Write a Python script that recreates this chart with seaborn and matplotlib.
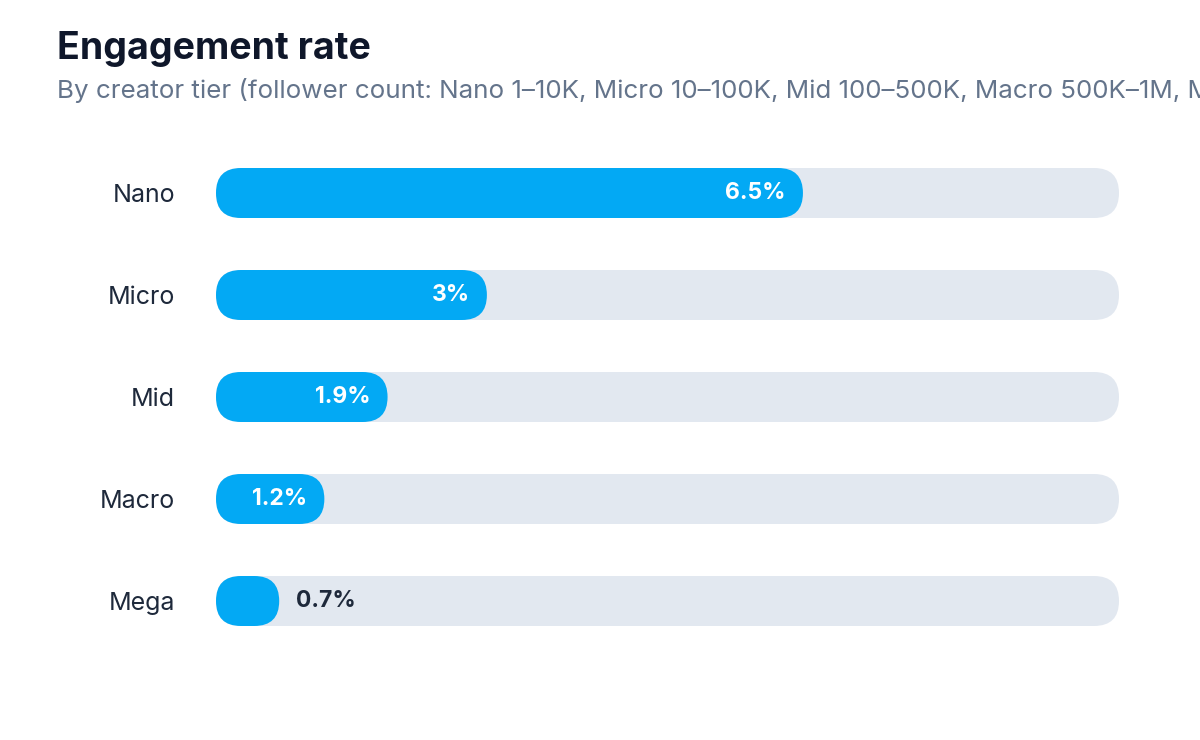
import matplotlib
matplotlib.use("Agg")
import matplotlib.pyplot as plt
from matplotlib.patches import FancyBboxPatch, Rectangle, BoxStyle
import seaborn as sns
import pandas as pd

# ---- data ----
tiers = ["Nano", "Micro", "Mid", "Macro", "Mega"]
rates = [6.5, 3.0, 1.9, 1.2, 0.7]
rate_labels = ["6.5%", "3%", "1.9%", "1.2%", "0.7%"]
scale_max = 10.0
title = "Engagement rate"
subtitle = ("By creator tier (follower count: Nano 1–10K, Micro 10–100K, "
            "Mid 100–500K, Macro 500K–1M, Mega 1M+)")

BAR = "#03a9f4"
TRACK = "#e2e8f0"
DARK = "#0f172a"
LABEL = "#1e293b"
MUTED = "#64748b"

sns.set_theme(style="white")
plt.rcParams["font.family"] = ["Inter", "DejaVu Sans"]

df = pd.DataFrame({"tier": tiers, "rate": rates,
                   "track": [scale_max] * len(tiers)})

fig = plt.figure(figsize=(12, 7.4), dpi=100)
W, H = 1200, 740
ax = fig.add_axes([216 / W, (H - 652) / H, 903 / W, 510 / H])

bw = 50 / 102
sns.barplot(data=df, x="track", y="tier", orient="h", color=TRACK,
            width=bw, ax=ax, saturation=1)
sns.barplot(data=df, x="rate", y="tier", orient="h", color=BAR,
            width=bw, ax=ax, saturation=1)

ax.set_xlim(0, scale_max)
ax.set_ylim(len(tiers) - 0.5, -0.5)

# convert rectangles to pill shapes
p0 = ax.transData.transform((0, 0))
px_x = ax.transData.transform((1, 0))[0] - p0[0]
px_y = abs(ax.transData.transform((0, 1))[1] - p0[1])
aspect = px_x / px_y
rects = [p for p in ax.patches if isinstance(p, Rectangle)]
for r in rects:
    x, y = r.get_x(), r.get_y()
    w, h = r.get_width(), r.get_height()
    fc = r.get_facecolor()
    r.remove()
    rad = (h / 2) / aspect
    pill = FancyBboxPatch((x, y), w, h,
                          boxstyle=BoxStyle.Round(pad=0, rounding_size=rad),
                          mutation_aspect=aspect, facecolor=fc,
                          edgecolor="none", linewidth=0)
    ax.add_patch(pill)

# value labels
for i, (v, lab) in enumerate(zip(rates, rate_labels)):
    if v >= 1.0:
        ax.annotate(lab, (v, i), xytext=(-17 * 0.72, 0),
                    textcoords="offset points", ha="right", va="center",
                    color="white", fontsize=16.5, fontweight="bold")
    else:
        ax.annotate(lab, (v, i), xytext=(17 * 0.72, 0),
                    textcoords="offset points", ha="left", va="center",
                    color=LABEL, fontsize=16.5, fontweight="bold")

ax.set_xlabel("")
ax.set_ylabel("")
ax.set_xticks([])
ax.tick_params(axis="y", length=0, pad=29.5, labelsize=18, labelcolor=LABEL)
for s in ax.spines.values():
    s.set_visible(False)

fig.text(57 / W, 1 - 59 / H, title, fontsize=27, fontweight="bold",
         color=DARK, va="baseline", ha="left")
fig.text(57 / W, 1 - 98 / H, subtitle, fontsize=18.7, color=MUTED,
         va="baseline", ha="left")

fig.savefig("out.png", dpi=100, facecolor="white")
